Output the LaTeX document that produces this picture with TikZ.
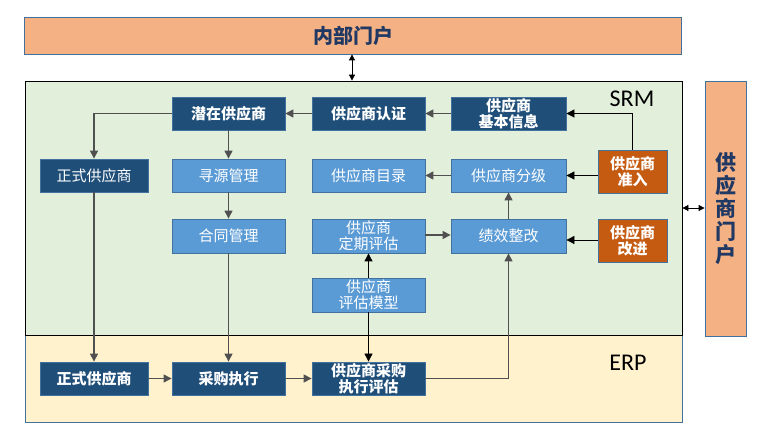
\documentclass[tikz,border=0pt]{standalone}
\usepackage{fontspec}
\setmainfont{Noto Sans CJK SC}
\newfontfamily\latinfont{Carlito}
\usetikzlibrary{arrows.meta}
\definecolor{portalfill}{HTML}{F4B183}
\definecolor{portaltext}{HTML}{203864}
\definecolor{edgeblue}{HTML}{41719C}
\definecolor{srmfill}{HTML}{E2EFDA}
\definecolor{erpfill}{HTML}{FFF2CC}
\definecolor{darkfill}{HTML}{1F4E79}
\definecolor{lightfill}{HTML}{5B9BD5}
\definecolor{orangefill}{HTML}{C55A11}
\definecolor{linkgray}{HTML}{505050}
\tikzset{
    box/.style={draw=edgeblue, line width=0.8pt, text=white, inner sep=0pt, align=center,
        minimum width=113pt, minimum height=33pt, font=\fontsize{15}{16}\selectfont},
    darkbox/.style={box, fill=darkfill, font=\fontsize{15}{16}\selectfont\bfseries},
    plainbox/.style={box, fill=darkfill},
    lightbox/.style={box, fill=lightfill},
    orangebox/.style={box, fill=orangefill, minimum width=69pt, minimum height=43pt,
        font=\fontsize{15}{16}\selectfont\bfseries},
    link/.style={draw=linkgray, line width=1.1pt, -{Triangle[length=8pt,width=8pt]}},
    blink/.style={draw=black, line width=0.8pt, -{Triangle[length=8pt,width=8pt]}},
    both/.style={draw=black, line width=0.8pt, {Triangle[length=6pt,width=6pt]}-{Triangle[length=6pt,width=6pt]}}
}
\begin{document}
\begin{tikzpicture}[x=1pt, y=-1pt]
    \useasboundingbox (0,0) rectangle (772,443);

    \node (inner) at (353,35.5) [draw=edgeblue, fill=portalfill, line width=0.8pt, minimum width=657pt, minimum height=37pt,
        text=portaltext, font=\fontsize{20}{21}\selectfont\bfseries] {内部门户};
    \node (erp) at (353.5,378.5) [draw=edgeblue, fill=erpfill, line width=0.8pt, minimum width=657pt, minimum height=87pt] {};
    \node (srm) at (353.5,208) [draw=black, fill=srmfill, line width=0.8pt, minimum width=657pt, minimum height=254pt] {};
    \node (outer) at (725.5,208.5) [draw=edgeblue, fill=portalfill, line width=0.8pt, minimum width=41pt, minimum height=255pt,
        text=portaltext, align=center, font=\fontsize{21}{23}\selectfont\bfseries] {供\\应\\商\\门\\户};

    \node (srmlabel) at (632,99) {\latinfont\fontsize{24}{24}\selectfont SRM};
    \node (erplabel) at (628,363) {\latinfont\fontsize{24}{24}\selectfont ERP};

    \node (qianzai) at (228.5,113.5) [darkbox] {潜在供应商};
    \node (renzheng) at (368.5,113.5) [darkbox] {供应商认证};
    \node (jiben) at (508.5,113.5) [darkbox, minimum width=115pt] {供应商\\基本信息};
    \node (zhengshi) at (94,175.5) [plainbox, minimum width=108pt] {正式供应商};
    \node (xunyuan) at (228.5,175.5) [lightbox] {寻源管理};
    \node (mulu) at (368.5,175.5) [lightbox] {供应商目录};
    \node (fenji) at (508.5,175.5) [lightbox, minimum width=115pt] {供应商分级};
    \node (zhunru) at (632.5,171.5) [orangebox] {供应商\\准入};
    \node (hetong) at (228.5,236) [lightbox, minimum height=34pt] {合同管理};
    \node (dingqi) at (368.5,236) [lightbox, minimum height=34pt] {供应商\\定期评估};
    \node (jixiao) at (508.5,236) [lightbox, minimum width=115pt, minimum height=34pt] {绩效整改};
    \node (gaijin) at (632.5,240.5) [orangebox] {供应商\\改进};
    \node (moxing) at (368.5,295) [lightbox, minimum height=34pt] {供应商\\评估模型};
    \node (erpzhengshi) at (94,378.5) [darkbox, minimum width=108pt] {正式供应商};
    \node (caigou) at (228.5,378.5) [darkbox] {采购执行};
    \node (pinggu) at (368.5,378.5) [darkbox] {供应商采购\\执行评估};

    \draw [both] (inner.south -| 352,0) -- (srm.north -| 352,0);
    \draw [both] (srm.east |- 0,208) -- (outer.west |- 0,208);

    \draw [link] (renzheng) -- (qianzai);
    \draw [link] (jiben) -- (renzheng);
    \draw [blink] (zhunru.north) |- (jiben.east);
    \draw [link] (qianzai.west) -| (zhengshi.north);
    \draw [link] (qianzai) -- (xunyuan);
    \draw [link] (xunyuan) -- (hetong);
    \draw [link] (hetong) -- (caigou);
    \draw [link] (zhengshi) -- (erpzhengshi);
    \draw [link] (erpzhengshi) -- (caigou);
    \draw [link] (caigou) -- (pinggu);
    \draw [link] (pinggu.east) -| (jixiao.south);
    \draw [link] (jixiao) -- (fenji);
    \draw [link] (fenji) -- (mulu);
    \draw [blink] (zhunru.west |- fenji) -- (fenji.east);
    \draw [blink] (gaijin.west |- 0,240) -- (jixiao.east |- 0,240);
    \draw [link] (dingqi.east |- 0,235) -- (jixiao.west |- 0,235);
    \draw [blink] (moxing) -- (dingqi);
    \draw [blink] (moxing) -- (pinggu);
\end{tikzpicture}
\end{document}
